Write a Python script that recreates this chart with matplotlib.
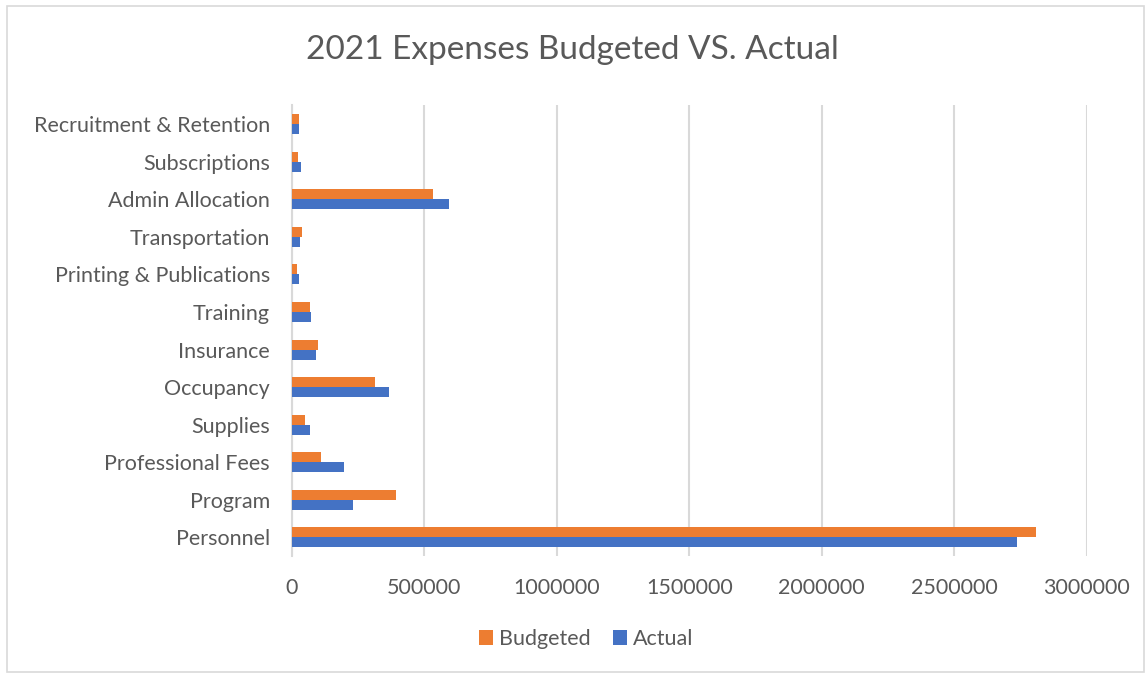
import numpy as np
import matplotlib.pyplot as plt
from matplotlib.patches import Rectangle

categories = ["Personnel", "Program", "Professional Fees", "Supplies", "Occupancy",
              "Insurance", "Training", "Printing & Publications", "Transportation",
              "Admin Allocation", "Subscriptions", "Recruitment & Retention"]
budgeted = [2810000, 393000, 109000, 48000, 313000, 100000, 69000, 20000, 39000, 531000, 23000, 28000]
actual = [2736000, 232000, 198000, 68000, 366000, 92000, 72000, 25000, 29000, 593000, 33000, 25000]
xticks = [0, 500000, 1000000, 1500000, 2000000, 2500000, 3000000]

plt.rcParams['font.family'] = ['Lato', 'DejaVu Sans']
text_col = "#595959"
orange = "#ED7D31"
blue = "#4472C4"

fig = plt.figure(figsize=(11.45, 6.75), dpi=100)
ax = fig.add_axes([0.255, 0.176, 0.694, 0.668])

y = np.arange(len(categories))
h = 0.267
ax.barh(y + h / 2, budgeted, height=h, color=orange, label="Budgeted", zorder=3)
ax.barh(y - h / 2, actual, height=h, color=blue, label="Actual", zorder=3)

ax.set_ylim(-0.5, len(categories) - 0.5)
ax.set_xlim(0, 3000000)
ax.set_xticks(xticks)
ax.set_xticklabels([str(t) for t in xticks])
ax.set_yticks(y)
ax.set_yticklabels(categories)
ax.tick_params(axis="both", length=0, labelsize=15.5, colors=text_col)
ax.tick_params(axis="x", pad=16)
ax.tick_params(axis="y", pad=16)
ax.xaxis.grid(True, color="#d9d9d9", linewidth=1.5, zorder=0)
for s in ["top", "right", "bottom"]:
    ax.spines[s].set_visible(False)
ax.spines["left"].set_color("#d9d9d9")
ax.spines["left"].set_linewidth(1.5)

fig.text(0.5, 0.926, "2021 Expenses Budgeted VS. Actual", ha="center", va="center",
         fontsize=24, color=text_col)

leg = fig.legend(loc="center", bbox_to_anchor=(0.512, 0.053), ncol=2, frameon=False,
                 fontsize=15.5, labelcolor=text_col, handlelength=0.65, handleheight=0.65,
                 columnspacing=1.0, handletextpad=0.3)

fig.patches.append(Rectangle((0.006, 0.004), 0.993, 0.987, transform=fig.transFigure,
                             fill=False, edgecolor="#d9d9d9", linewidth=1.2))

fig.savefig("out.png", dpi=100)
